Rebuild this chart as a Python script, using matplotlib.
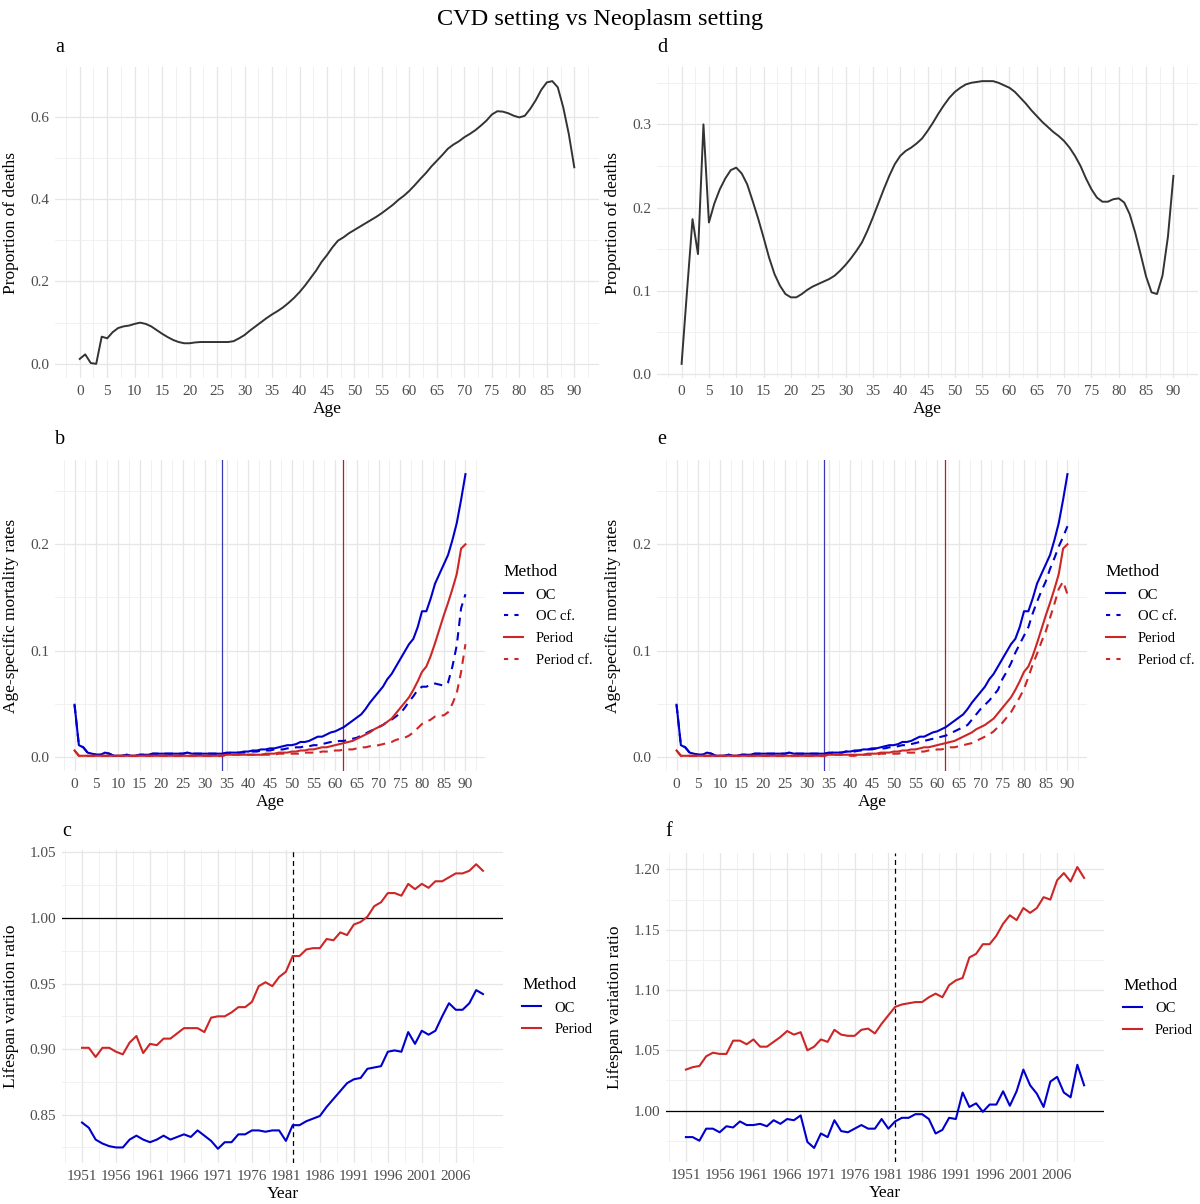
import matplotlib
matplotlib.use('Agg')
import matplotlib.pyplot as plt
from matplotlib.ticker import FixedLocator
from matplotlib.lines import Line2D

plt.rcParams['font.family'] = ['Liberation Serif', 'DejaVu Serif']

# ---- data ----
age = list(range(91))

# proportion of deaths, CVD setting (panel a)
prop_cvd = [0.012, 0.023, 0.002, 0.000, 0.066, 0.062, 0.077, 0.087, 0.091, 0.093,
            0.097, 0.100, 0.097, 0.091, 0.082, 0.073, 0.065, 0.058, 0.053, 0.050,
            0.050, 0.052, 0.053, 0.053, 0.053, 0.053, 0.053, 0.053, 0.055, 0.062,
            0.070, 0.081, 0.091, 0.101, 0.111, 0.120, 0.128, 0.137, 0.148, 0.160,
            0.174, 0.190, 0.208, 0.226, 0.247, 0.264, 0.283, 0.299, 0.307, 0.317,
            0.325, 0.333, 0.341, 0.349, 0.357, 0.366, 0.376, 0.386, 0.398, 0.408,
            0.420, 0.434, 0.449, 0.463, 0.479, 0.493, 0.507, 0.522, 0.532, 0.540,
            0.550, 0.558, 0.567, 0.578, 0.590, 0.605, 0.613, 0.612, 0.608, 0.602,
            0.598, 0.602, 0.619, 0.640, 0.665, 0.683, 0.686, 0.671, 0.622, 0.558,
            0.477]

# proportion of deaths, Neoplasm setting (panel d)
prop_neo = [0.012, 0.100, 0.186, 0.144, 0.300, 0.182, 0.205, 0.222, 0.235, 0.245,
            0.248, 0.241, 0.228, 0.208, 0.187, 0.164, 0.140, 0.120, 0.106, 0.096,
            0.092, 0.092, 0.096, 0.101, 0.105, 0.108, 0.111, 0.114, 0.118, 0.124,
            0.131, 0.139, 0.148, 0.158, 0.172, 0.188, 0.205, 0.222, 0.238, 0.252,
            0.262, 0.268, 0.272, 0.277, 0.283, 0.292, 0.302, 0.313, 0.323, 0.332,
            0.339, 0.344, 0.348, 0.350, 0.351, 0.352, 0.352, 0.352, 0.350, 0.347,
            0.344, 0.339, 0.332, 0.325, 0.317, 0.310, 0.303, 0.297, 0.291, 0.286,
            0.280, 0.272, 0.262, 0.250, 0.235, 0.222, 0.212, 0.207, 0.207, 0.210,
            0.211, 0.206, 0.192, 0.170, 0.144, 0.117, 0.098, 0.096, 0.118, 0.165,
            0.238]

# age-specific mortality rates (panels b and e)
oc_rate = [0.049, 0.011, 0.009, 0.004, 0.003, 0.002, 0.002, 0.004, 0.003, 0.001,
           0.001, 0.001, 0.002, 0.001, 0.001, 0.002, 0.002, 0.002, 0.003, 0.003,
           0.003, 0.003, 0.003, 0.003, 0.003, 0.003, 0.004, 0.003, 0.003, 0.003,
           0.003, 0.003, 0.003, 0.003, 0.003, 0.004, 0.004, 0.004, 0.004, 0.005,
           0.005, 0.006, 0.006, 0.007, 0.007, 0.008, 0.008, 0.009, 0.010, 0.011,
           0.011, 0.012, 0.014, 0.014, 0.015, 0.017, 0.019, 0.019, 0.021, 0.023,
           0.024, 0.026, 0.028, 0.031, 0.034, 0.037, 0.040, 0.045, 0.051, 0.056,
           0.061, 0.066, 0.073, 0.078, 0.085, 0.092, 0.099, 0.106, 0.111, 0.122,
           0.137, 0.137, 0.149, 0.163, 0.172, 0.181, 0.190, 0.204, 0.220, 0.242,
           0.266]

period_rate = [0.006, 0.001, 0.001, 0.001, 0.001, 0.001, 0.001, 0.001, 0.001, 0.001,
               0.001, 0.001, 0.001, 0.001, 0.001, 0.001, 0.001, 0.001, 0.001, 0.001,
               0.001, 0.001, 0.001, 0.001, 0.001, 0.001, 0.001, 0.001, 0.001, 0.001,
               0.001, 0.001, 0.001, 0.001, 0.001, 0.002, 0.002, 0.002, 0.002, 0.002,
               0.002, 0.002, 0.002, 0.002, 0.003, 0.003, 0.003, 0.004, 0.004, 0.004,
               0.005, 0.005, 0.006, 0.006, 0.007, 0.007, 0.008, 0.009, 0.009, 0.010,
               0.011, 0.012, 0.013, 0.014, 0.015, 0.017, 0.019, 0.021, 0.023, 0.026,
               0.028, 0.030, 0.033, 0.036, 0.041, 0.046, 0.051, 0.056, 0.063, 0.071,
               0.080, 0.085, 0.095, 0.107, 0.120, 0.133, 0.145, 0.158, 0.172, 0.196,
               0.200]

oc_cf_cvd = [0.049, 0.011, 0.009, 0.004, 0.003, 0.002, 0.002, 0.004, 0.003, 0.001,
             0.001, 0.001, 0.002, 0.001, 0.001, 0.002, 0.002, 0.002, 0.003, 0.003,
             0.003, 0.003, 0.003, 0.003, 0.003, 0.003, 0.004, 0.003, 0.003, 0.003,
             0.003, 0.003, 0.003, 0.003, 0.003, 0.003, 0.004, 0.004, 0.004, 0.004,
             0.005, 0.005, 0.005, 0.006, 0.006, 0.006, 0.007, 0.007, 0.007, 0.008,
             0.008, 0.009, 0.009, 0.010, 0.010, 0.011, 0.011, 0.012, 0.013, 0.014,
             0.014, 0.015, 0.015, 0.016, 0.017, 0.018, 0.020, 0.022, 0.024, 0.026,
             0.028, 0.030, 0.033, 0.035, 0.038, 0.041, 0.046, 0.052, 0.057, 0.063,
             0.066, 0.066, 0.068, 0.069, 0.068, 0.067, 0.070, 0.085, 0.105, 0.140,
             0.153]

period_cf_cvd = [0.006, 0.001, 0.001, 0.001, 0.001, 0.001, 0.001, 0.001, 0.001, 0.001,
                 0.001, 0.001, 0.001, 0.001, 0.001, 0.001, 0.001, 0.001, 0.001, 0.001,
                 0.001, 0.001, 0.001, 0.001, 0.001, 0.001, 0.001, 0.001, 0.001, 0.001,
                 0.001, 0.001, 0.001, 0.001, 0.001, 0.002, 0.002, 0.002, 0.002, 0.002,
                 0.002, 0.002, 0.002, 0.002, 0.002, 0.002, 0.002, 0.003, 0.003, 0.003,
                 0.003, 0.003, 0.003, 0.004, 0.004, 0.004, 0.004, 0.005, 0.005, 0.005,
                 0.006, 0.006, 0.007, 0.007, 0.007, 0.008, 0.009, 0.009, 0.010, 0.010,
                 0.011, 0.012, 0.013, 0.014, 0.016, 0.017, 0.018, 0.020, 0.023, 0.027,
                 0.031, 0.033, 0.035, 0.038, 0.039, 0.039, 0.042, 0.050, 0.060, 0.080,
                 0.106]

oc_cf_neo = [0.049, 0.011, 0.009, 0.004, 0.003, 0.002, 0.002, 0.004, 0.003, 0.001,
             0.001, 0.001, 0.002, 0.001, 0.001, 0.002, 0.002, 0.002, 0.003, 0.003,
             0.003, 0.003, 0.003, 0.003, 0.003, 0.003, 0.004, 0.003, 0.003, 0.003,
             0.003, 0.003, 0.003, 0.003, 0.003, 0.003, 0.004, 0.004, 0.004, 0.005,
             0.005, 0.005, 0.006, 0.006, 0.007, 0.007, 0.008, 0.008, 0.008, 0.009,
             0.009, 0.010, 0.011, 0.011, 0.012, 0.013, 0.014, 0.015, 0.016, 0.017,
             0.018, 0.019, 0.020, 0.022, 0.024, 0.026, 0.028, 0.030, 0.035, 0.040,
             0.045, 0.049, 0.053, 0.058, 0.063, 0.073, 0.080, 0.088, 0.098, 0.106,
             0.114, 0.122, 0.135, 0.146, 0.156, 0.165, 0.177, 0.187, 0.198, 0.207,
             0.217]

period_cf_neo = [0.006, 0.001, 0.001, 0.001, 0.001, 0.001, 0.001, 0.001, 0.001, 0.001,
                 0.001, 0.001, 0.001, 0.001, 0.001, 0.001, 0.001, 0.001, 0.001, 0.001,
                 0.001, 0.001, 0.001, 0.001, 0.001, 0.001, 0.001, 0.001, 0.001, 0.001,
                 0.001, 0.001, 0.001, 0.001, 0.001, 0.002, 0.002, 0.002, 0.002, 0.002,
                 0.001, 0.001, 0.002, 0.002, 0.002, 0.002, 0.002, 0.003, 0.003, 0.003,
                 0.003, 0.003, 0.004, 0.004, 0.004, 0.004, 0.005, 0.005, 0.006, 0.006,
                 0.007, 0.007, 0.008, 0.009, 0.009, 0.010, 0.011, 0.012, 0.013, 0.015,
                 0.017, 0.019, 0.021, 0.024, 0.028, 0.032, 0.037, 0.042, 0.049, 0.056,
                 0.064, 0.075, 0.087, 0.097, 0.108, 0.118, 0.131, 0.144, 0.158, 0.165,
                 0.153]

mean_age_oc = 33.9
mean_age_period = 61.9

# lifespan variation ratio (panels c and f)
years = list(range(1951, 2011))

ratio_oc_cvd = [0.844, 0.840, 0.831, 0.828, 0.826, 0.825, 0.825, 0.831, 0.834, 0.831,
                0.829, 0.831, 0.834, 0.831, 0.833, 0.835, 0.833, 0.838, 0.834, 0.830,
                0.824, 0.829, 0.829, 0.835, 0.835, 0.838, 0.838, 0.837, 0.838, 0.838,
                0.830, 0.842, 0.842, 0.845, 0.847, 0.849, 0.856, 0.862, 0.868, 0.874,
                0.877, 0.878, 0.885, 0.886, 0.887, 0.898, 0.899, 0.898, 0.913, 0.904,
                0.914, 0.911, 0.914, 0.925, 0.935, 0.930, 0.930, 0.935, 0.945, 0.942]

ratio_period_cvd = [0.901, 0.901, 0.894, 0.901, 0.901, 0.898, 0.896, 0.905, 0.910, 0.897,
                    0.904, 0.903, 0.908, 0.908, 0.912, 0.916, 0.916, 0.916, 0.913, 0.924,
                    0.925, 0.925, 0.928, 0.932, 0.932, 0.936, 0.948, 0.951, 0.948, 0.955,
                    0.959, 0.971, 0.971, 0.976, 0.977, 0.977, 0.984, 0.983, 0.989, 0.987,
                    0.995, 0.997, 1.001, 1.009, 1.012, 1.019, 1.019, 1.017, 1.026, 1.022,
                    1.026, 1.023, 1.028, 1.028, 1.031, 1.034, 1.034, 1.036, 1.041, 1.036]

ratio_oc_neo = [0.978, 0.978, 0.975, 0.985, 0.985, 0.982, 0.987, 0.986, 0.991, 0.988,
                0.988, 0.989, 0.987, 0.992, 0.989, 0.993, 0.992, 0.996, 0.974, 0.969,
                0.981, 0.978, 0.992, 0.983, 0.982, 0.985, 0.988, 0.985, 0.985, 0.993,
                0.985, 0.991, 0.994, 0.994, 0.997, 0.997, 0.993, 0.981, 0.984, 0.994,
                0.993, 1.015, 1.003, 1.006, 0.999, 1.005, 1.005, 1.016, 1.004, 1.016,
                1.034, 1.021, 1.014, 1.003, 1.024, 1.028, 1.015, 1.011, 1.038, 1.021]

ratio_period_neo = [1.034, 1.036, 1.037, 1.045, 1.048, 1.047, 1.047, 1.058, 1.058, 1.055,
                    1.059, 1.053, 1.053, 1.057, 1.061, 1.066, 1.063, 1.065, 1.050, 1.053,
                    1.059, 1.057, 1.067, 1.063, 1.062, 1.062, 1.067, 1.068, 1.064, 1.072,
                    1.079, 1.086, 1.088, 1.089, 1.090, 1.090, 1.094, 1.097, 1.094, 1.104,
                    1.108, 1.110, 1.127, 1.130, 1.138, 1.138, 1.145, 1.155, 1.162, 1.158,
                    1.168, 1.164, 1.168, 1.177, 1.175, 1.191, 1.197, 1.190, 1.202, 1.193]

start_year = 1982

# ---- styling ----
W, H = 1200, 1204
BLUE = '#0000CD'
RED = '#CD2626'
GRID_MAJOR = '#e6e6e6'
GRID_MINOR = '#efefef'
TICK_COLOR = '#4D4D4D'

fig = plt.figure(figsize=(W / 100, H / 100), dpi=100)


def add_panel(l, t, r, b):
    return fig.add_axes([l / W, 1 - b / H, (r - l) / W, (b - t) / H])


def expand(lo, hi, frac=0.05):
    d = (hi - lo) * frac
    return lo - d, hi + d


def style(ax, xmajor, xminor, ymajor, yminor, ylabels):
    for s in ax.spines.values():
        s.set_visible(False)
    ax.xaxis.set_major_locator(FixedLocator(xmajor))
    ax.xaxis.set_minor_locator(FixedLocator(xminor))
    ax.yaxis.set_major_locator(FixedLocator(ymajor))
    ax.yaxis.set_minor_locator(FixedLocator(yminor))
    ax.set_yticklabels(ylabels)
    ax.tick_params(which='both', length=0, labelsize=11, labelcolor=TICK_COLOR)
    ax.tick_params(axis='x', pad=5)
    ax.tick_params(axis='y', pad=4)
    ax.grid(which='major', color=GRID_MAJOR, lw=0.9)
    ax.grid(which='minor', color=GRID_MINOR, lw=0.6)
    ax.set_axisbelow(True)


age_major = list(range(0, 91, 5))
age_minor = [x + 2.5 for x in range(-5, 95, 5)]
year_major = list(range(1951, 2007, 5))
year_minor = [x + 2.5 for x in range(1946, 2016, 5)]

LEG_KW = dict(loc='center left', frameon=False, fontsize=10.5, title_fontsize=12.5,
              handlelength=1.3, handletextpad=0.9, labelspacing=0.6, alignment='left',
              borderaxespad=0)


def age_panel(ax, y, ymajor, yminor, ylabels, ylabel):
    ax.plot(age, y, color='#333333', lw=1.4)
    ax.set_xlim(-4.5, 94.5)
    ax.set_ylim(*expand(min(y), max(y)))
    style(ax, age_major, age_minor, ymajor, yminor, ylabels)
    ax.set_xlabel('Age', fontsize=12.5, labelpad=2)
    ax.set_ylabel(ylabel, fontsize=12.5, labelpad=8)


def rate_panel(ax, oc_cf, period_cf):
    ax.axvline(mean_age_oc, color='#3a3ab0', lw=0.9)
    ax.axvline(mean_age_period, color='#b22222', lw=0.9)
    ax.plot(age, oc_rate, color=BLUE, lw=1.5)
    ax.plot(age, oc_cf, color=BLUE, lw=1.5, dashes=(4, 3))
    ax.plot(age, period_rate, color=RED, lw=1.5)
    ax.plot(age, period_cf, color=RED, lw=1.5, dashes=(4, 3))
    ax.set_xlim(-4.5, 94.5)
    ax.set_ylim(*expand(0, max(oc_rate)))
    style(ax, age_major, age_minor, [0, 0.1, 0.2], [0.05, 0.15, 0.25], ['0.0', '0.1', '0.2'])
    ax.set_xlabel('Age', fontsize=12.5, labelpad=2)
    ax.set_ylabel('Age-specific mortality rates', fontsize=12.5, labelpad=8)
    handles = [Line2D([], [], color=BLUE, lw=1.5),
               Line2D([], [], color=BLUE, lw=1.5, dashes=(2, 3)),
               Line2D([], [], color=RED, lw=1.5),
               Line2D([], [], color=RED, lw=1.5, dashes=(2, 3))]
    ax.legend(handles, ['OC', 'OC cf.', 'Period', 'Period cf.'], title='Method',
              bbox_to_anchor=(1.03, 0.5), **LEG_KW)


def ratio_panel(ax, oc, period, ymajor, yminor, ylabels):
    ax.axhline(1.0, color='black', lw=0.9)
    ax.axvline(start_year, color='black', lw=0.9, dashes=(4, 3))
    ax.plot(years, oc, color=BLUE, lw=1.5)
    ax.plot(years, period, color=RED, lw=1.5)
    ax.set_xlim(*expand(1951, 2010))
    lo = min(min(oc), min(period), 1.0)
    hi = max(max(oc), max(period), 1.0)
    ax.set_ylim(*expand(lo, hi))
    style(ax, year_major, year_minor, ymajor, yminor, ylabels)
    ax.set_xticklabels([str(y) for y in year_major])
    ax.set_xlabel('Year', fontsize=12.5, labelpad=2)
    ax.set_ylabel('Lifespan variation ratio', fontsize=12.5, labelpad=8)
    handles = [Line2D([], [], color=BLUE, lw=1.5), Line2D([], [], color=RED, lw=1.5)]
    ax.legend(handles, ['OC', 'Period'], title='Method',
              bbox_to_anchor=(1.03, 0.5), **LEG_KW)


# panel a
ax_a = add_panel(55, 67, 599, 378)
age_panel(ax_a, prop_cvd, [0, 0.2, 0.4, 0.6], [0.1, 0.3, 0.5], ['0.0', '0.2', '0.4', '0.6'],
          'Proportion of deaths')

# panel d
ax_d = add_panel(657, 67, 1198, 378)
age_panel(ax_d, prop_neo, [0, 0.1, 0.2, 0.3], [0.05, 0.15, 0.25, 0.35], ['0.0', '0.1', '0.2', '0.3'],
          'Proportion of deaths')

# panels b, e
ax_b = add_panel(55, 460, 485, 771)
rate_panel(ax_b, oc_cf_cvd, period_cf_cvd)
ax_e = add_panel(657, 460, 1087, 771)
rate_panel(ax_e, oc_cf_neo, period_cf_neo)

# panels c, f
ax_c = add_panel(62, 850, 503, 1163)
ratio_panel(ax_c, ratio_oc_cvd, ratio_period_cvd,
            [0.85, 0.90, 0.95, 1.00, 1.05], [0.825, 0.875, 0.925, 0.975, 1.025],
            ['0.85', '0.90', '0.95', '1.00', '1.05'])
ax_f = add_panel(666, 853, 1104, 1162)
ratio_panel(ax_f, ratio_oc_neo, ratio_period_neo,
            [1.00, 1.05, 1.10, 1.15, 1.20], [0.975, 1.025, 1.075, 1.125, 1.175],
            ['1.00', '1.05', '1.10', '1.15', '1.20'])

# title and panel letters
fig.text(0.5, 1 - 20 / H, 'CVD setting vs Neoplasm setting', ha='center', va='center', fontsize=17.5)
for letter, x, y in [('a', 60, 47), ('d', 662, 47), ('b', 60, 440), ('e', 662, 440),
                     ('c', 67, 831), ('f', 669, 831)]:
    fig.text(x / W, 1 - y / H, letter, ha='center', va='center', fontsize=14.5)

fig.savefig('out.png', dpi=100)
